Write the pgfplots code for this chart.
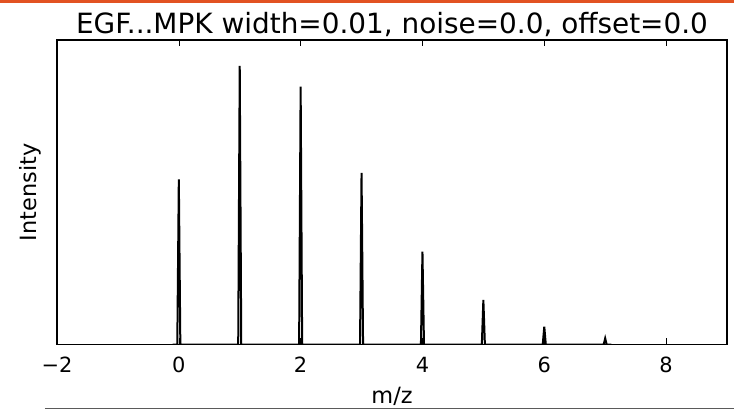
\documentclass[border=0pt]{standalone}
\usepackage{pgfplots}
\pgfplotsset{compat=1.18}
\usepackage{fontspec}
\setmainfont{DejaVu Sans}
\definecolor{topbar}{RGB}{226,82,34}
\definecolor{botline}{RGB}{90,90,90}
\begin{document}
\begin{tikzpicture}
\begin{axis}[
  at={(0,0)}, anchor=south west,
  scale only axis,
  width=670bp, height=304.5bp,
  xmin=-2, xmax=9, ymin=0, ymax=1.093,
  xtick={-2,0,2,4,6,8},
  xticklabels={−2,0,2,4,6,8},
  ytick=\empty,
  tick align=inside,
  major tick length=6bp,
  xtick pos=both,
  axis line style={line width=1.2bp},
  tick style={black, line width=0.6bp},
  ticklabel style={font=\fontsize{21}{24}\selectfont},
  xticklabel style={yshift=-9bp},
  title={EGF...MPK width=0.01, noise=0.0, offset=0.0},
  title style={font=\fontsize{28}{32}\selectfont, yshift=-6bp},
  xlabel={m/z}, ylabel={Intensity},
  label style={font=\fontsize{22.5}{26}\selectfont},
  xlabel style={yshift=-7bp},
  ylabel style={yshift=12bp},
  clip=true,
]
\addplot[black, line width=2bp, line join=miter] coordinates {
(-0.1,0) (-0.025,0) (0,0.593) (0.025,0)
(0.975,0) (1,1.0) (1.025,0)
(1.975,0) (2,0.926) (2.025,0)
(2.975,0) (3,0.616) (3.025,0)
(3.975,0) (4,0.333) (4.025,0)
(4.975,0) (5,0.160) (5.025,0)
(5.975,0) (6,0.064) (6.025,0)
(6.975,0) (7,0.022) (7.025,0) (7.1,0)
};
\end{axis}
\pgfresetboundingbox
\path[use as bounding box] (-57bp,-66bp) rectangle (677bp,344.5bp);
\fill[topbar] (-57bp,344.5bp) rectangle (677bp,341.5bp);
\draw[botline, line width=1.5bp] (-12bp,-64bp) -- (677bp,-64bp);
\end{tikzpicture}
\end{document}
